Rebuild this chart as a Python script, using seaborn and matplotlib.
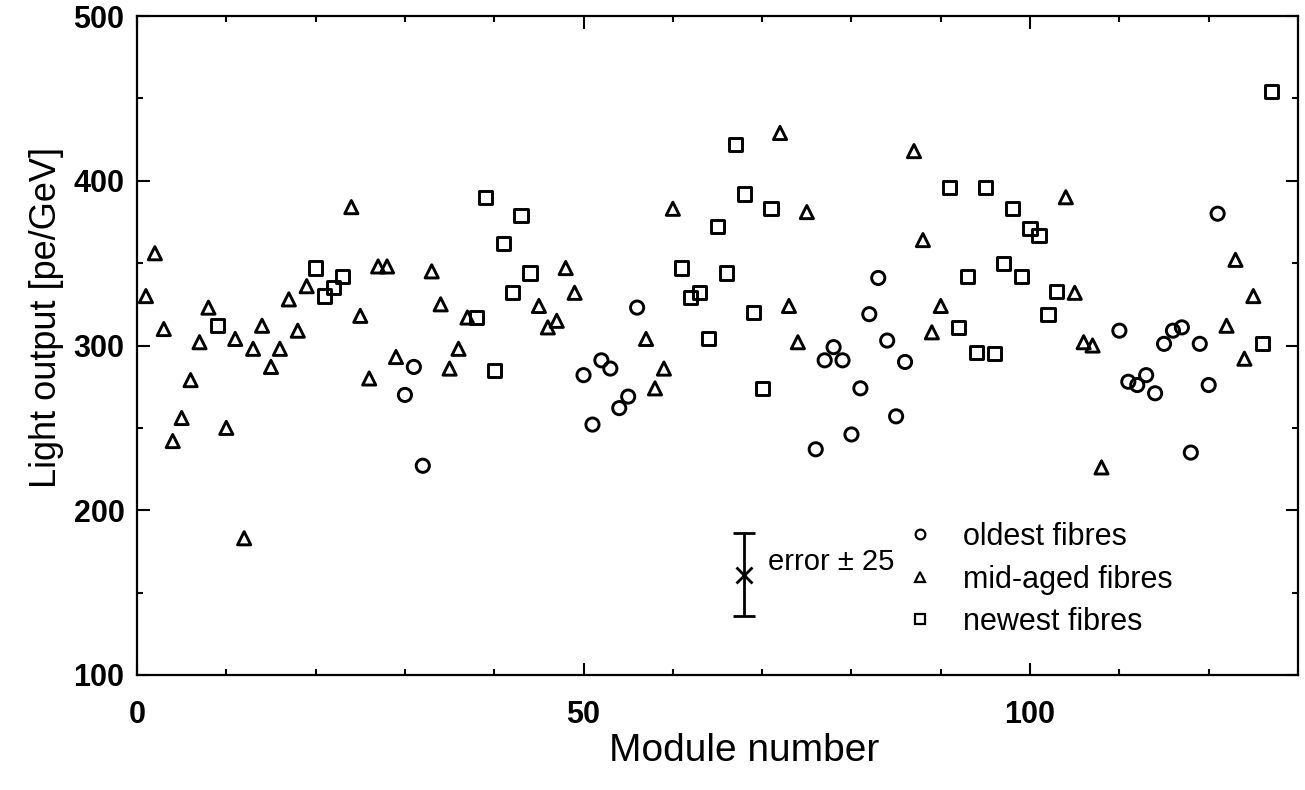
import numpy as np
import pandas as pd
import matplotlib
matplotlib.use("Agg")
import matplotlib.pyplot as plt
import seaborn as sns
from matplotlib.lines import Line2D
from matplotlib.ticker import MultipleLocator

# ---------------- data ----------------
oldest_module = [30, 31, 32, 50, 51, 52, 53, 54, 55, 56,
                 76, 77, 78, 79, 80, 81, 82, 83, 84, 85, 86,
                 110, 111, 112, 113, 114, 115, 116, 117, 118, 119, 120, 121]
oldest_light = [270, 287, 227, 282, 252, 291, 286, 262, 269, 323,
                237, 291, 299, 291, 246, 274, 319, 341, 303, 257, 290,
                309, 278, 276, 282, 271, 301, 309, 311, 235, 301, 276, 380]

mid_module = [1, 2, 3, 4, 5, 6, 7, 8, 10, 11, 12, 13, 14, 15, 16, 17, 18, 19,
              24, 25, 26, 27, 28, 29, 33, 34, 35, 36, 37, 45, 46, 47, 48, 49,
              57, 58, 59, 60, 72, 73, 74, 75, 87, 88, 89, 90,
              104, 105, 106, 107, 108, 122, 123, 124, 125]
mid_light = [330, 356, 310, 242, 256, 279, 302, 323, 250, 304, 183, 298, 312, 287, 298, 328, 309, 336,
             384, 318, 280, 348, 348, 293, 345, 325, 286, 298, 317, 324, 311, 315, 347, 332,
             304, 274, 286, 383, 429, 324, 302, 381, 418, 364, 308, 324,
             390, 332, 302, 300, 226, 312, 352, 292, 330]

newest_module = [9, 20, 21, 22, 23, 38, 39, 40, 41, 42, 43, 44,
                 61, 62, 63, 64, 65, 66, 67, 68, 69, 70, 71,
                 91, 92, 93, 94, 95, 96, 97, 98, 99, 100, 101, 102, 103, 126, 127]
newest_light = [312, 347, 330, 335, 342, 317, 390, 285, 362, 332, 379, 344,
                347, 329, 332, 304, 372, 344, 422, 392, 320, 274, 383,
                396, 311, 342, 296, 396, 295, 350, 383, 342, 371, 367, 319, 333, 301, 454]

group_names = ["oldest fibres", "mid-aged fibres", "newest fibres"]
group_markers = ["o", "^", "s"]

x_major_ticks = [0, 50, 100]
y_major_ticks = [100, 200, 300, 400, 500]

error_module = 68
error_center = 161
error_half = 25
error_label = "error \u00b1 25"

# ---------------- table ----------------
df = pd.concat([
    pd.DataFrame({"module": oldest_module, "light": oldest_light, "group": group_names[0]}),
    pd.DataFrame({"module": mid_module, "light": mid_light, "group": group_names[1]}),
    pd.DataFrame({"module": newest_module, "light": newest_light, "group": group_names[2]}),
], ignore_index=True)

# ---------------- style ----------------
sns.set_theme(style="ticks")
plt.rcParams["font.family"] = ["Liberation Sans", "DejaVu Sans"]
plt.rcParams["axes.edgecolor"] = "black"
plt.rcParams["xtick.color"] = "black"
plt.rcParams["ytick.color"] = "black"
plt.rcParams["text.color"] = "black"
plt.rcParams["axes.labelcolor"] = "black"

W, H = 1305, 790
fig = plt.figure(figsize=(W / 100, H / 100), dpi=100)
ax = fig.add_axes([137 / W, 1 - 675 / H, (1298 - 137) / W, (675 - 16) / H])

sns.scatterplot(
    data=df, x="module", y="light", style="group",
    markers=dict(zip(group_names, group_markers)),
    style_order=group_names,
    s=90, facecolor="none", edgecolor="black", linewidth=2.1,
    legend=False, ax=ax,
)

ax.set_xlim(0, 130)
ax.set_ylim(100, 500)
ax.set_xticks(x_major_ticks)
ax.set_yticks(y_major_ticks)
ax.xaxis.set_minor_locator(MultipleLocator(10))
ax.yaxis.set_minor_locator(MultipleLocator(50))
ax.tick_params(which="both", direction="in", top=True, right=True, width=1.5, color="black")
ax.tick_params(which="major", length=9)
ax.tick_params(which="minor", length=4.5)
ax.tick_params(axis="x", which="major", pad=18, labelsize=22)
ax.tick_params(axis="y", which="major", pad=9, labelsize=22)
for lab in ax.get_xticklabels() + ax.get_yticklabels():
    lab.set_fontweight("bold")
for sp in ax.spines.values():
    sp.set_visible(True)
    sp.set_linewidth(1.6)
    sp.set_color("black")

ax.set_xlabel("Module number", fontsize=28)
ax.set_ylabel("Light output [pe/GeV]", fontsize=26)
ax.xaxis.set_label_coords(0.523, -0.088)
ax.yaxis.set_label_coords(-0.063, 0.542)

# error bar annotation
ax.errorbar([error_module], [error_center], yerr=[error_half], fmt="x", color="black",
            ms=12, mew=2, elinewidth=2, capsize=8, capthick=2)
ax.text(error_module + 2.6, error_center + 3, error_label, fontsize=21, va="baseline", ha="left")

# legend
handles = [Line2D([], [], marker=m, ls="none", mfc="none", mec="black", mew=1.6, ms=7)
           for m in group_markers]
ax.legend(handles, group_names, loc="upper left",
          bbox_to_anchor=(905 / W, 1 - 522 / H), bbox_transform=fig.transFigure,
          frameon=False, fontsize=22, handlelength=1.0, handletextpad=0.9,
          labelspacing=0.41, borderpad=0, borderaxespad=0)

fig.savefig("out.png", dpi=100)
